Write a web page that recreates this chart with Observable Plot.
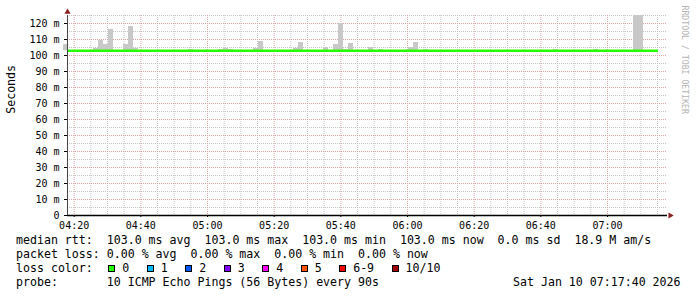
<!DOCTYPE html>
<html>
<head>
<meta charset="utf-8">
<script src="https://cdn.jsdelivr.net/npm/d3@7"></script>
<script src="https://cdn.jsdelivr.net/npm/@observablehq/plot@0.6"></script>
<style>
html,body{margin:0;padding:0;background:#fff;}
#wrap{position:relative;width:697px;height:297px;overflow:hidden;background:#fff;}
#chart{position:absolute;left:0;top:0;}
#legend{position:absolute;left:16px;top:234px;width:681px;font-family:"DejaVu Sans Mono",monospace;font-size:11.6px;line-height:13.9px;color:#000;}
#legend .line{position:relative;height:13.9px;white-space:pre;}
.box{display:inline-block;width:5px;height:5px;border:1px solid #000;margin-left:1.5px;margin-right:7px;vertical-align:baseline;}
.lab{display:inline-block;margin-right:16px;}
.lab.last{margin-right:0;}
#date{position:absolute;left:497px;top:0;}
</style>
</head>
<body>
<div id="wrap"><div id="chart"></div><div id="legend"></div></div>
<script>
// ---- data ----
const stepSeconds = 90;
const smokeTimes = ["04:16:48","04:25:48","04:27:18","04:28:48","04:30:18","04:34:48","04:36:18","04:37:48",
  "04:54:18","05:03:18","05:04:48","05:06:18","05:13:48","05:15:18","05:25:48","05:27:18",
  "05:34:48","05:37:48","05:39:18","05:40:48","05:42:18","05:48:18","05:51:18","06:00:18",
  "06:01:48","06:04:48","06:43:48","06:55:48","07:07:48","07:09:18"];
const smokeMax = [106.9,104.4,109.4,106.9,116.3,106.9,118.1,104.4,
  103.8,103.8,104.4,103.8,104.4,108.8,104.4,108.1,
  105.0,106.9,120.0,103.8,107.5,105.0,103.8,105.0,
  108.1,103.8,103.8,103.8,125.0,125.0];
const medianRtt = 103.0;
const medianFrom = "04:18:00";
const medianTo = "07:15:18";
const axisStart = "04:18:00";
const axisEnd = "07:18:00";
const yTicks = [0,10,20,30,40,50,60,70,80,90,100,110,120];
const yMinor = [5,15,25,35,45,55,65,75,85,95,105,115,125];
const yLabel = "Seconds";
const watermark = "RRDTOOL / TOBI OETIKER";

const statNames = ["avg","max","min","now"];
const rttValues = ["103.0","103.0","103.0","103.0"];
const rttSd = "0.0";
const rttAmS = "18.9 M";
const lossValues = ["0.00","0.00","0.00","0.00"];
const lossLabels = ["0","1","2","3","4","5","6-9","10/10"];
const lossColors = ["#26ff00","#00b8ff","#0059ff","#7e00ff","#ff00ff","#ff5500","#ff0000","#a10000"];
const probeText = "10 ICMP Echo Pings (56 Bytes) every 90s";
const dateText = "Sat Jan 10 07:17:40 2026";

// ---- helpers ----
const day = s => { const [h,m,sec] = s.split(":").map(Number); return new Date(Date.UTC(2026,0,10,h,m,sec)); };
const xStart = day(axisStart), xEnd = day(axisEnd);
const smoke = smokeTimes.map((t,i) => ({t0: day(t), t1: new Date(day(t).getTime() + stepSeconds*1000), hi: smokeMax[i]}));
const majorX = d3.utcMinute.every(20).range(xStart, xEnd);
const minorX = d3.utcMinute.every(5).range(xStart, xEnd).filter(d => d.getUTCMinutes() % 20 !== 0);

const triUp = {draw(ctx, size){ const y = -Math.sqrt(size/(Math.sqrt(3)*3)); ctx.moveTo(0, y*2); ctx.lineTo(-Math.sqrt(3)*y, -y); ctx.lineTo(Math.sqrt(3)*y, -y); ctx.closePath(); }};
const triRight = {draw(ctx, size){ const y = -Math.sqrt(size/(Math.sqrt(3)*3)); ctx.moveTo(-y*2, 0); ctx.lineTo(y, -Math.sqrt(3)*y); ctx.lineTo(y, Math.sqrt(3)*y); ctx.closePath(); }};

const font = "'DejaVu Sans Mono', monospace";
const minorColor = "#c4c4c4";
const majorColor = "#e0a4a4";

const chart = Plot.plot({
  width: 697, height: 232,
  marginLeft: 67, marginRight: 30, marginTop: 15, marginBottom: 17,
  style: {fontFamily: font, fontSize: "10px", background: "transparent", overflow: "visible", color: "#000"},
  x: {type: "utc", domain: [xStart, xEnd]},
  y: {domain: [0, 125]},
  marks: [
    Plot.ruleY(yMinor, {stroke: minorColor, strokeDasharray: "1,1"}),
    Plot.ruleX(minorX, {stroke: minorColor, strokeDasharray: "1,1"}),
    Plot.ruleY(yTicks.filter(d => d > 0), {stroke: majorColor, strokeDasharray: "1,1"}),
    Plot.ruleX(majorX, {stroke: majorColor, strokeDasharray: "1,1"}),
    Plot.rect(smoke, {x1: "t0", x2: "t1", y1: () => medianRtt, y2: "hi", fill: "#c8c8c8"}),
    Plot.ruleY([medianRtt], {x1: () => day(medianFrom), x2: () => day(medianTo), stroke: "#26ff00", strokeWidth: 2.4}),
    Plot.axisX({ticks: majorX, tickFormat: d3.utcFormat("%H:%M"), tickSize: 2, tickPadding: 4, label: null, fontSize: 10}),
    Plot.axisY({ticks: yTicks, tickFormat: d => d === 0 ? "0" : `${d} m`, tickSize: 3, tickPadding: 5, label: null, fontSize: 10}),
    Plot.ruleX([xStart], {stroke: "#444"}),
    Plot.ruleY([0], {stroke: "#000", strokeWidth: 1.5}),
    Plot.dot([0], {frameAnchor: "top-left", symbol: triUp, r: 2.3, fill: "#8b1e1e", stroke: "none", dy: -3.5}),
    Plot.dot([0], {frameAnchor: "bottom-right", symbol: triRight, r: 2.3, fill: "#8b1e1e", stroke: "none", dx: 2.7}),
    Plot.text([yLabel], {text: d => d, frameAnchor: "left", rotate: -90, dx: -56.7, dy: -1.7, fontSize: 11.6, fontFamily: font, fill: "#000"}),
    Plot.text([watermark], {text: d => d, frameAnchor: "top-right", rotate: 90, textAnchor: "start", dx: 20.7, dy: -10, fontSize: 8.2, fontFamily: font, fill: "#b4b4b4"})
  ]
});
document.getElementById("chart").appendChild(chart);

// ---- legend ----
const legend = document.getElementById("legend");
const addLine = () => { const d = document.createElement("div"); d.className = "line"; legend.appendChild(d); return d; };
const l1 = "median rtt:  " + statNames.map((n,i) => `${rttValues[i]} ms ${n}`).join("  ") + `  ${rttSd} ms sd  ${rttAmS} am/s`;
const l2 = "packet loss: " + statNames.map((n,i) => `${lossValues[i]} % ${n}`).join("  ");
addLine().textContent = l1;
addLine().textContent = l2;
const line3 = addLine();
const head3 = document.createElement("span"); head3.textContent = "loss color:  "; line3.appendChild(head3);
lossLabels.forEach((lab, i) => {
  const b = document.createElement("span"); b.className = "box"; b.style.background = lossColors[i];
  line3.appendChild(b);
  const t = document.createElement("span"); t.textContent = lab; t.className = i < lossLabels.length - 1 ? "lab" : "lab last";
  line3.appendChild(t);
});
const line4 = addLine();
const p = document.createElement("span"); p.textContent = "probe:       " + probeText; line4.appendChild(p);
const dt = document.createElement("span"); dt.id = "date"; dt.textContent = dateText; line4.appendChild(dt);
</script>
</body>
</html>
